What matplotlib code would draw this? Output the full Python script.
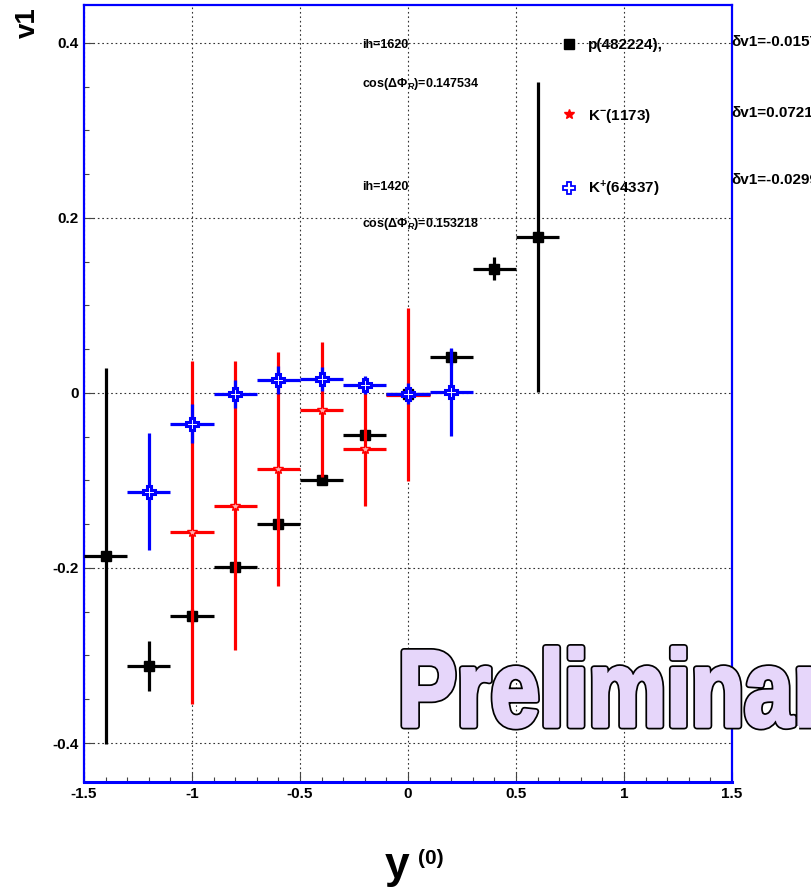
"""v1 vs rapidity for p, K- and K+."""

import matplotlib

matplotlib.use("Agg")
import matplotlib.pyplot as plt
import matplotlib.patheffects as pe
from matplotlib.colors import to_rgba
from matplotlib.lines import Line2D
from matplotlib.ticker import FuncFormatter, MultipleLocator
from matplotlib.transforms import Affine2D

plt.rcParams["font.family"] = ["Liberation Sans", "DejaVu Sans"]
plt.rcParams["font.weight"] = "bold"
plt.rcParams["axes.unicode_minus"] = False
plt.rcParams["mathtext.fontset"] = "custom"
plt.rcParams["mathtext.rm"] = "Liberation Sans:bold"
plt.rcParams["mathtext.bf"] = "Liberation Sans:bold"
plt.rcParams["mathtext.it"] = "Liberation Sans:italic:bold"

# protons
p_y = [-1.4, -1.2, -1.0, -0.8, -0.6, -0.4, -0.2, 0.0, 0.2, 0.4, 0.6]
p_v1 = [-0.186, -0.312, -0.255, -0.199, -0.150, -0.100, -0.048, -0.001, 0.041, 0.142, 0.178]
p_err = [0.215, 0.028, 0.008, 0.006, 0.006, 0.005, 0.006, 0.006, 0.009, 0.013, 0.177]

# K-
km_y = [-1.0, -0.8, -0.6, -0.4, -0.2, 0.0]
km_v1 = [-0.159, -0.129, -0.087, -0.019, -0.064, -0.002]
km_err = [0.196, 0.165, 0.134, 0.077, 0.065, 0.099]

# K+
kp_y = [-1.2, -1.0, -0.8, -0.6, -0.4, -0.2, 0.0, 0.2]
kp_v1 = [-0.113, -0.035, -0.001, 0.015, 0.016, 0.009, -0.001, 0.001]
kp_err = [0.067, 0.022, 0.016, 0.016, 0.014, 0.010, 0.012, 0.050]

y_halfwidth = 0.1

legend_labels = ["p(482224),", "K$^{-}$(1173)", "K$^{+}$(64337)"]
dv1_labels = ["\u03b4v1=-0.0157", "\u03b4v1=0.0721", "\u03b4v1=-0.0299"]
run_labels = [
    ("ih=1620", 0.398),
    ("cos($\\Delta\\Phi_R$)=0.147534", 0.353),
    ("ih=1420", 0.235),
    ("cos($\\Delta\\Phi_R$)=0.153218", 0.193),
]


class SqueezedOutline(pe.AbstractPathEffect):
    """Narrow the glyphs horizontally and draw them fat with a dark rim."""

    def __init__(self, sx, x0, fill, rim=5.0, fat=2.5):
        super().__init__()
        self.sx, self.x0 = sx, x0
        self.fill, self.rim, self.fat = to_rgba(fill), rim, fat

    def draw_path(self, renderer, gc, tpath, affine, rgbFace=None):
        aff = affine + Affine2D().translate(-self.x0, 0).scale(self.sx, 1).translate(self.x0, 0)
        for color, lw in (("black", self.rim), (self.fill, self.fat)):
            g = renderer.new_gc()
            g.copy_properties(gc)
            g.set_foreground(color)
            g.set_linewidth(lw)
            g.set_joinstyle("round")
            renderer.draw_path(g, tpath, aff, None)
            g.restore()
        renderer.draw_path(gc, tpath, aff, self.fill)


fig = plt.figure(figsize=(8.12, 8.91), dpi=100)
ax = fig.add_axes([0.1034, 0.1223, 0.7981, 0.8721])

ax.errorbar(p_y, p_v1, yerr=p_err, xerr=y_halfwidth, fmt="s", color="black",
            ms=6.5, elinewidth=2.3, capsize=0, zorder=3)
ax.errorbar(km_y, km_v1, yerr=km_err, xerr=y_halfwidth, fmt="*", color="red",
            mfc="#ffb0b0", mec="red", ms=8, elinewidth=2.3, capsize=0, zorder=4)
ax.errorbar(kp_y, kp_v1, yerr=kp_err, xerr=y_halfwidth, fmt="P", color="blue",
            mfc="white", mec="blue", mew=2.2, ms=9, elinewidth=2.3, capsize=0, zorder=5)

ax.set_xlim(-1.5, 1.5)
ax.set_ylim(-0.4446, 0.4434)
ax.xaxis.set_major_locator(MultipleLocator(0.5))
ax.xaxis.set_minor_locator(MultipleLocator(0.1))
ax.yaxis.set_major_locator(MultipleLocator(0.2))
ax.yaxis.set_minor_locator(MultipleLocator(0.05))
fmt = FuncFormatter(lambda v, _: "%g" % round(v, 2))
ax.xaxis.set_major_formatter(fmt)
ax.yaxis.set_major_formatter(fmt)
ax.tick_params(which="both", direction="in", top=False, right=False,
               color="#444444", labelsize=11)
ax.tick_params(which="major", length=7, width=0.8)
ax.tick_params(which="minor", length=3.5, width=0.8)
ax.grid(True, which="major", linestyle=(0, (1.5, 2.5)), color="#333333", lw=0.8)
for s in ax.spines.values():
    s.set_color("blue")
    s.set_linewidth(1.6)
ax.spines["bottom"].set_linewidth(2.2)

for txt, yv in run_labels:
    ax.text(-0.213, yv, txt, fontsize=9, va="center", ha="left")

for txt, yv in zip(dv1_labels, [0.401, 0.320, 0.243]):
    ax.text(1.499, yv, txt, fontsize=11, va="center", ha="left", clip_on=False)

handles = [
    Line2D([], [], ls="none", marker="s", color="black", ms=7),
    Line2D([], [], ls="none", marker="*", color="red", ms=7),
    Line2D([], [], ls="none", marker="P", mfc="white", mec="blue", mew=1.3, ms=9),
]
ax.legend(handles, legend_labels, loc="upper left", bbox_to_anchor=(0.737, 0.957),
          frameon=False, borderaxespad=0, borderpad=0, handlelength=1,
          handletextpad=0.75, labelspacing=3.55, prop={"size": 11, "weight": "bold"})

# watermark
fig.text(398 / 812, 1 - 726 / 891, "Preliminary", fontsize=78, weight="bold",
         color="#e6d6fa", ha="left", va="baseline",
         path_effects=[SqueezedOutline(0.81, 398, "#e6d6fa")])

fig.text(28 / 812, 1 - 7 / 891, "v1", rotation=90, fontsize=20, weight="bold",
         ha="center", va="top")
fig.text(397 / 812, 1 - 878 / 891, "y", fontsize=32, weight="bold",
         ha="center", va="baseline")
fig.text(418 / 812, 1 - 864 / 891, "(0)", fontsize=15, weight="bold",
         ha="left", va="baseline")

fig.savefig("out.png", dpi=100)
